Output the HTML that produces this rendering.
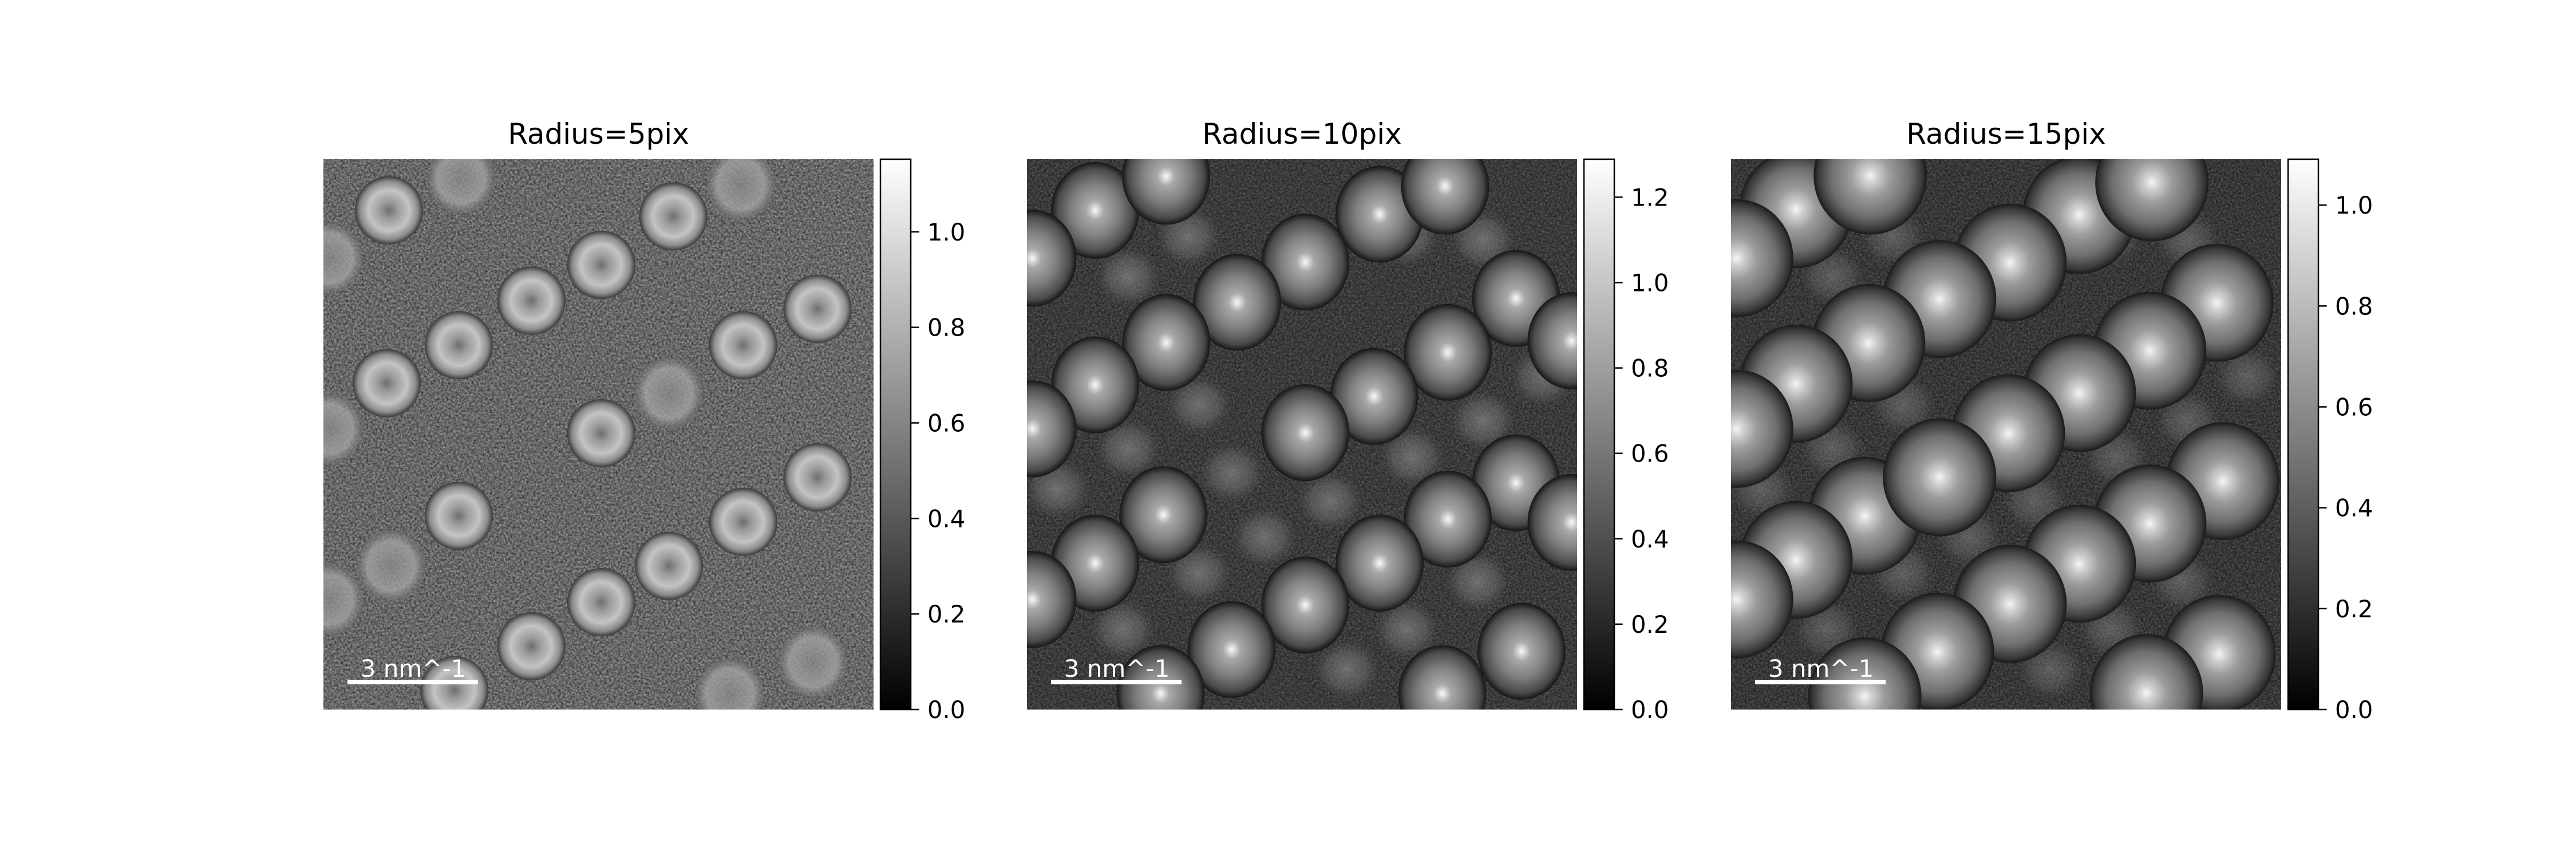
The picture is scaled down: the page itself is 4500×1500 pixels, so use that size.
<!DOCTYPE html>
<html><head><meta charset="utf-8"><style>
html,body{margin:0;padding:0;background:#fff;}
svg{display:block;}
text{font-family:"DejaVu Sans","Liberation Sans",sans-serif;}
</style></head><body>
<svg id="fig" xmlns="http://www.w3.org/2000/svg" width="4500" height="1500" viewBox="0 0 4500 1500">
<defs>
  <linearGradient id="cmap" x1="0" y1="1" x2="0" y2="0">
    <stop offset="0" stop-color="#000"/><stop offset="1" stop-color="#fff"/>
  </linearGradient>
  <radialGradient id="blob0">
    <stop offset="0" stop-color="#6e6e6e"/>
    <stop offset="0.25" stop-color="#9a9a9a"/>
    <stop offset="0.6" stop-color="#c4c4c4"/>
    <stop offset="0.85" stop-color="#8c8c8c"/>
    <stop offset="1" stop-color="#3a3a3a"/>
  </radialGradient>
  <radialGradient id="blob0d">
    <stop offset="0" stop-color="#8a8a8a"/>
    <stop offset="0.7" stop-color="#a8a8a8"/>
    <stop offset="1" stop-color="#6a6a6a" stop-opacity="0.6"/>
  </radialGradient>
  <radialGradient id="blob1">
    <stop offset="0" stop-color="#fafafa"/>
    <stop offset="0.08" stop-color="#d8d8d8"/>
    <stop offset="0.2" stop-color="#a8a8a8"/>
    <stop offset="0.55" stop-color="#7e7e7e"/>
    <stop offset="0.86" stop-color="#4a4a4a"/>
    <stop offset="1" stop-color="#161616"/>
  </radialGradient>
  <radialGradient id="blob2">
    <stop offset="0" stop-color="#f6f6f6"/>
    <stop offset="0.12" stop-color="#d2d2d2"/>
    <stop offset="0.35" stop-color="#9c9c9c"/>
    <stop offset="0.7" stop-color="#6e6e6e"/>
    <stop offset="0.92" stop-color="#383838"/>
    <stop offset="1" stop-color="#1a1a1a"/>
  </radialGradient>
  <radialGradient id="patch">
    <stop offset="0" stop-color="#8a8a8a" stop-opacity="0.85"/>
    <stop offset="0.6" stop-color="#707070" stop-opacity="0.6"/>
    <stop offset="1" stop-color="#505050" stop-opacity="0"/>
  </radialGradient>
  <filter id="grain" x="0" y="0" width="100%" height="100%">
    <feTurbulence type="fractalNoise" baseFrequency="0.35" numOctaves="2" seed="3"/>
    <feColorMatrix type="matrix" values="0 0 0 0 0.62  0 0 0 0 0.62  0 0 0 0 0.62  1.6 0 0 0 -0.45"/>
  </filter>
  <filter id="grainDark" x="0" y="0" width="100%" height="100%">
    <feTurbulence type="fractalNoise" baseFrequency="0.25" numOctaves="2" seed="7"/>
    <feColorMatrix type="matrix" values="0 0 0 0 0  0 0 0 0 0  0 0 0 0 0  1.8 0 0 0 -0.6"/>
  </filter>
</defs>
<g id="panels"></g>
</svg>
<script>
// ---- data ----
const titles = ["Radius=5pix", "Radius=10pix", "Radius=15pix"];
const cbMax = [1.152, 1.289, 1.091];
const ticks0 = [0.0, 0.2, 0.4, 0.6, 0.8, 1.0];
const ticks1 = [0.0, 0.2, 0.4, 0.6, 0.8, 1.0, 1.2];
const ticks2 = [0.0, 0.2, 0.4, 0.6, 0.8, 1.0];
const tickLabels0 = ["0.0","0.2","0.4","0.6","0.8","1.0"];
const tickLabels1 = ["0.0","0.2","0.4","0.6","0.8","1.0","1.2"];
const tickLabels2 = ["0.0","0.2","0.4","0.6","0.8","1.0"];
// blob centers (fraction of image) per panel
const blobX0 = [.119,.636,.505,.378,.898,.246,.763,.115,.505,.898,.246,.763,.628,.505,.378,.238];
const blobY0 = [.093,.104,.192,.257,.272,.338,.338,.407,.498,.578,.648,.659,.739,.805,.885,.965];
const dimX0 = [.250,.759,.628,.123,.739,.890,.010,.010,.010];
const dimY0 = [.035,.046,.425,.739,.972,.914,.180,.490,.800];
const blobX1 = [.124,.253,.641,.760,.506,.382,.889,.253,.765,.124,.631,.506,.889,.248,.765,.124,.641,.506,.372,.899,.755,.243,.010,.010,.010,.990,.990];
const blobY1 = [.093,.031,.100,.049,.187,.260,.253,.333,.351,.410,.431,.497,.588,.646,.654,.734,.734,.810,.891,.894,.971,.971,.180,.490,.800,.330,.660];
const blobX2 = [.118,.253,.633,.765,.507,.379,.883,.250,.761,.118,.633,.504,.894,.243,.761,.118,.633,.507,.375,.887,.755,.243,.379,.010,.010,.010];
const blobY2 = [.091,.030,.101,.042,.188,.254,.261,.334,.348,.408,.425,.498,.585,.648,.662,.728,.735,.808,.895,.899,.970,.976,.578,.180,.490,.800];
// interstitial lighter patches (panels 2 & 3)
const patchX = [.184,.313,.184,.372,.551,.432,.313,.174,.700,.829,.690,.829,.938,.293,.055,.819,.690,.581];
const patchY = [.213,.446,.526,.570,.621,.687,.752,.854,.541,.475,.140,.147,.395,.140,.599,.767,.854,.927];

const ticksAll = [ticks0, ticks1, ticks2];
const labelsAll = [tickLabels0, tickLabels1, tickLabels2];
const NS = "http://www.w3.org/2000/svg";
const root = document.getElementById("panels");
function mk(tag, attrs, parent){ const e=document.createElementNS(NS,tag); for(const k in attrs) e.setAttribute(k,attrs[k]); (parent||root).appendChild(e); return e; }

const imgX = [565, 1794, 3024], imgY = 278, S = 961;
const bg = ["#6a6a6a", "#363636", "#323232"];
const blobR = [0.062, 0.08, 0.103];
const blobRy = [1.0, 1.1, 1.04];

for (let p = 0; p < 3; p++) {
  const x0 = imgX[p];
  const g = mk("g", {});
  
  
  const clip = mk("clipPath", {id: "clip"+p}, document.querySelector("defs"));
  mk("rect", {x:x0, y:imgY, width:S, height:S}, clip);

  const img = mk("g", {"clip-path": "url(#clip"+p+")"}, g);
  
  
  mk("rect", {x:x0, y:imgY, width:S, height:S, fill:bg[p]}, img);
  mk("rect", {x:x0, y:imgY, width:S, height:S, filter:"url(#grain)", opacity: p===0?0.6:0.3}, img);
  mk("rect", {x:x0, y:imgY, width:S, height:S, filter:"url(#grainDark)", opacity: p===0?0.6:0.5}, img);

  if (p > 0) {
    for (let i = 0; i < patchX.length; i++) {
      const pr = mk("ellipse", {cx: x0 + patchX[i]*S, cy: imgY + patchY[i]*S, rx: 0.06*S, ry: 0.055*S, fill: "url(#patch)", opacity: p===1?0.8:0.6}, img);
      
      
    }
  }

  const bx = [blobX0, blobX1, blobX2][p], by = [blobY0, blobY1, blobY2][p];
  if (p === 0) {
    for (let i = 0; i < dimX0.length; i++) {
      const c = mk("ellipse", {cx: x0 + dimX0[i]*S, cy: imgY + dimY0[i]*S, rx: blobR[0]*S, ry: blobR[0]*S*1.05, fill: "url(#blob0d)", opacity: 0.75}, img);
      
      
    }
  }
  for (let i = 0; i < bx.length; i++) {
    const c = mk("ellipse", {cx: x0 + bx[i]*S, cy: imgY + by[i]*S, rx: blobR[p]*S, ry: blobR[p]*S*blobRy[p], fill: "url(#blob"+p+")"}, img);
    
    
  }

  // scale bar
  const sb = mk("rect", {x: x0+42, y: imgY+909, width: 228, height: 8, fill: "#fff"}, g);
  
  
  const st = mk("text", {x: x0+157, y: imgY+904, "font-size": 42, fill: "#fff", "text-anchor": "middle"}, g);
  st.textContent = "3 nm^-1";
  
  

  // title
  const t = mk("text", {x: x0 + S/2, y: 251, "font-size": 50, "text-anchor": "middle", fill: "#000"}, g);
  t.textContent = titles[p];
  
  

  // colorbar
  const cx = x0 + 973, cw = 53;
  const yOf = v => imgY + S - v / cbMax[p] * S;
  const cb = mk("rect", {x: cx, y: imgY, width: cw, height: S, fill: "url(#cmap)", stroke: "#000", "stroke-width": 2.5}, g);
  
  
  const tk = ticksAll[p], tl = labelsAll[p];
  for (let i = 0; i < tk.length; i++) {
    const y = yOf(tk[i]);
    const ln = mk("line", {x1: cx+cw, x2: cx+cw+14.6, y1: y, y2: y, stroke: "#000", "stroke-width": 2.5}, g);
    
    
    const lb = mk("text", {x: cx+cw+29, y: y+15, "font-size": 41.7, fill: "#000"}, g);
    lb.textContent = tl[i];
    
    
  }
}
</script>
</body></html>
